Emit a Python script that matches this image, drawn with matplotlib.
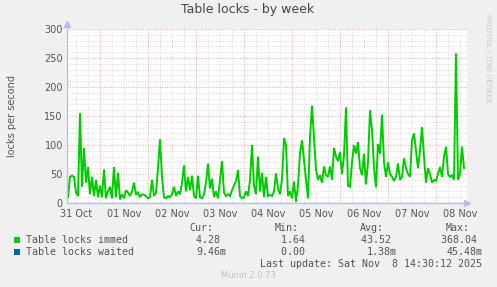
import datetime as dt

import matplotlib
matplotlib.use("Agg")
import matplotlib.pyplot as plt

# hourly samples starting 31 Oct 08:00
START = dt.datetime(2025, 10, 31, 8, 0)
immed = [
    10, 45, 47, 45, 18, 12, 155, 28, 95, 35, 62, 15, 45, 12, 40, 10,
    30, 10, 58, 8, 20, 28, 8, 62, 10, 52, 6, 15, 8, 22, 18, 12,
    20, 35, 14, 18, 10, 15, 14, 12, 8, 10, 40, 12, 18, 60, 110, 45,
    10, 8, 12, 10, 15, 28, 12, 20, 15, 35, 65, 20, 45, 22, 47, 12,
    8, 47, 10, 8, 15, 35, 68, 25, 42, 10, 20, 8, 40, 72, 18, 12,
    15, 12, 22, 30, 38, 57, 12, 8, 10, 20, 12, 40, 100, 30, 15, 80,
    20, 52, 10, 45, 12, 14, 12, 20, 51, 25, 15, 40, 112, 100, 12, 20,
    8, 37, 2, 30, 86, 108, 74, 40, 8, 114, 168, 114, 57, 40, 48, 35,
    63, 48, 45, 63, 40, 95, 80, 72, 88, 50, 82, 165, 30, 28, 70, 100,
    85, 105, 60, 48, 85, 32, 70, 160, 125, 60, 27, 102, 85, 152, 70, 45,
    70, 50, 45, 38, 45, 68, 40, 45, 77, 60, 50, 45, 108, 120, 90, 60,
    90, 131, 80, 35, 60, 50, 35, 40, 38, 50, 62, 45, 80, 97, 50, 45,
    48, 40, 258, 40, 50, 97, 60,
]
waited_hours = [0, 198]
waited = [0.0, 0.0]

day_labels = ["31 Oct", "01 Nov", "02 Nov", "03 Nov", "04 Nov",
              "05 Nov", "06 Nov", "07 Nov", "08 Nov"]
y_ticks = [0, 50, 100, 150, 200, 250, 300]

legend_names = ["Table locks immed", "Table locks waited"]
legend_colors = ["#00CC00", "#0066B3"]
cur_vals = ["4.28 ", "9.46m"]
min_vals = ["1.64 ", "0.00 "]
avg_vals = ["43.52 ", "1.38m"]
max_vals = ["368.04 ", "45.48m"]

BG = "#F0F0F0"
TXT = "#555555"
MAJOR = "#E6A8A8"
MINOR = "#D8D8D8"
AXIS = "#B4BCEC"

W, H = 497, 287
fig = plt.figure(figsize=(W / 100, H / 100), dpi=100, facecolor=BG)
ax = fig.add_axes([67 / W, (H - 203) / H, 400 / W, 174 / H])
ax.set_facecolor("white")

times = [START + dt.timedelta(hours=i) for i in range(len(immed))]
wtimes = [START + dt.timedelta(hours=h) for h in waited_hours]

x0 = dt.datetime(2025, 10, 31, 7, 30)
x1 = dt.datetime(2025, 11, 8, 15, 30)
ax.set_xlim(x0, x1)
ax.set_ylim(0, 300)

dotted = (0, (1, 1.5))
# minor grid
for v in range(10, 300, 10):
    if v % 50:
        ax.axhline(v, color=MINOR, lw=0.7, ls=dotted, zorder=0)
t = dt.datetime(2025, 10, 31, 12, 0)
while t < x1:
    if t.hour != 0:
        ax.axvline(t, color=MINOR, lw=0.7, ls=dotted, zorder=0)
    t += dt.timedelta(hours=6)
# major grid
for v in y_ticks[1:]:
    ax.axhline(v, color=MAJOR, lw=0.7, ls=dotted, zorder=0.5)
t = dt.datetime(2025, 11, 1)
while t < x1:
    ax.axvline(t, color=MAJOR, lw=0.7, ls=dotted, zorder=0.5)
    t += dt.timedelta(days=1)

# waited series sits on zero, under the axis line
ax.plot(wtimes, waited, color=legend_colors[1], lw=0.8, zorder=1)
ax.plot(times, immed, color=legend_colors[0], lw=1.4, zorder=4,
        solid_joinstyle="miter")

noon = [dt.datetime(2025, 10, 31, 12) + dt.timedelta(days=i) for i in range(len(day_labels))]
ax.set_xticks(noon)
ax.set_xticklabels(day_labels)
ax.set_yticks(y_ticks)
ax.tick_params(axis="both", length=0, labelsize=7, colors=TXT, pad=3)
ax.tick_params(axis="x", pad=4)

for s in ["top", "right"]:
    ax.spines[s].set_visible(False)
for s in ["left", "bottom"]:
    ax.spines[s].set_color(AXIS)
    ax.spines[s].set_linewidth(0.9)
    ax.spines[s].set_zorder(5)
# axis arrows
ax.plot([1.0], [0], marker=">", color=AXIS, ms=4, transform=ax.transAxes, clip_on=False)
ax.plot([0], [1.03], marker="^", color=AXIS, ms=4, transform=ax.transAxes, clip_on=False)

fig.text(248 / W, 1 - 10 / H, "Table locks - by week", ha="center", va="center",
         fontsize=9, color="#444444")
fig.text(12 / W, 1 - 116 / H, "locks per second", rotation=90, ha="center",
         va="center", fontsize=7, color=TXT)
fig.text(488 / W, 1 - 58 / H, "RRDTOOL / TOBI OETIKER", rotation=270, ha="center",
         va="center", fontsize=5, color="#C8C8C8")

mono = dict(family="DejaVu Sans Mono", fontsize=7.2, color=TXT, va="center")
fig.text(213 / W, 1 - 228 / H, "Cur:", ha="right", **mono)
fig.text(299 / W, 1 - 228 / H, "Min:", ha="right", **mono)
fig.text(384 / W, 1 - 228 / H, "Avg:", ha="right", **mono)
fig.text(470 / W, 1 - 228 / H, "Max:", ha="right", **mono)

rows_y = [240, 252]
for i, name in enumerate(legend_names):
    yy = 1 - rows_y[i] / H
    fig.patches.append(plt.Rectangle((14 / W, yy - 3 / H), 6 / W, 6 / H,
                                     transform=fig.transFigure,
                                     facecolor=legend_colors[i], edgecolor="none"))
    fig.text(26 / W, yy, name, ha="left", **mono)
    fig.text(226 / W, yy, cur_vals[i], ha="right", **mono)
    fig.text(311 / W, yy, min_vals[i], ha="right", **mono)
    fig.text(397 / W, yy, avg_vals[i], ha="right", **mono)
    fig.text(483 / W, yy, max_vals[i], ha="right", **mono)

fig.text(482 / W, 1 - 264 / H, "Last update: Sat Nov  8 14:30:12 2025", ha="right", **mono)
fig.text(248 / W, 1 - 276 / H, "Munin 2.0.73", ha="center", va="center",
         fontsize=6, color="#C0C0C0")

fig.savefig("out.png", dpi=100, facecolor=BG)
